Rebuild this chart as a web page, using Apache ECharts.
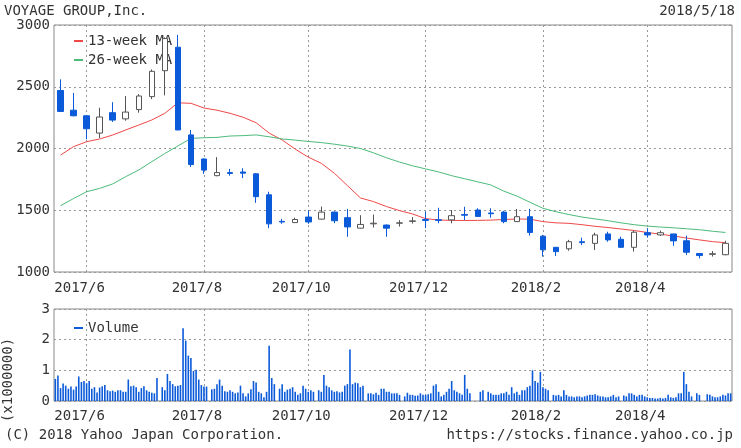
<!DOCTYPE html>
<html>
<head>
<meta charset="utf-8">
<script src="https://cdn.jsdelivr.net/npm/echarts@6/dist/echarts.min.js"></script>
<style>
html, body { margin: 0; padding: 0; background: #fff; }
#main { width: 741px; height: 448px; }
</style>
</head>
<body>
<div id="main"></div>
<script>
// 週足 (first trading day of each week)
var weeks = [
  '2017/5/22', '2017/5/29', '2017/6/5', '2017/6/12', '2017/6/19', '2017/6/26', '2017/7/3', '2017/7/10',
  '2017/7/18', '2017/7/24', '2017/7/31', '2017/8/7', '2017/8/14', '2017/8/21', '2017/8/28', '2017/9/4',
  '2017/9/11', '2017/9/19', '2017/9/25', '2017/10/2', '2017/10/10', '2017/10/16', '2017/10/23', '2017/10/30',
  '2017/11/6', '2017/11/13', '2017/11/20', '2017/11/27', '2017/12/4', '2017/12/11', '2017/12/18', '2017/12/25',
  '2018/1/4', '2018/1/9', '2018/1/15', '2018/1/22', '2018/1/29', '2018/2/5', '2018/2/13', '2018/2/19',
  '2018/2/26', '2018/3/5', '2018/3/12', '2018/3/19', '2018/3/26', '2018/4/2', '2018/4/9', '2018/4/16',
  '2018/4/23', '2018/5/1', '2018/5/7', '2018/5/14'
]
var opens = [2470, 2310, 2265, 2125, 2290, 2240, 2315, 2420, 2630, 2820, 2110, 1915, 1780, 1805, 1810, 1795, 1625, 1410, 1400, 1445,
  1428, 1485, 1440, 1355, 1390, 1380, 1395, 1410, 1425, 1423, 1422, 1465, 1502, 1478, 1485, 1408, 1448, 1290, 1200, 1188,
  1245, 1232, 1308, 1265, 1200, 1318, 1300, 1308, 1253, 1150, 1143, 1140]
var closes = [2300, 2265, 2160, 2255, 2230, 2295, 2425, 2625, 2890, 2150, 1870, 1825, 1805, 1798, 1800, 1610, 1390, 1405, 1425, 1405,
  1485, 1415, 1365, 1385, 1395, 1355, 1398, 1414, 1418, 1418, 1456, 1460, 1450, 1472, 1408, 1448, 1320, 1180, 1165, 1245,
  1238, 1300, 1260, 1200, 1322, 1300, 1318, 1252, 1160, 1133, 1148, 1232]
var lows = [2300, 2260, 2075, 2085, 2215, 2225, 2290, 2400, 2430, 2150, 1850, 1795, 1775, 1780, 1760, 1560, 1355, 1390, 1398, 1390,
  1425, 1395, 1285, 1352, 1360, 1285, 1368, 1392, 1355, 1395, 1394, 1420, 1448, 1440, 1395, 1405, 1295, 1125, 1130, 1172,
  1218, 1178, 1245, 1198, 1165, 1278, 1292, 1212, 1138, 1110, 1125, 1135]
var highs = [2560, 2450, 2270, 2330, 2375, 2425, 2440, 2640, 2900, 2920, 2150, 1920, 1930, 1835, 1840, 1800, 1650, 1430, 1440, 1500,
  1530, 1490, 1510, 1460, 1465, 1385, 1420, 1444, 1490, 1520, 1502, 1528, 1516, 1516, 1495, 1510, 1510, 1300, 1200, 1260,
  1278, 1318, 1326, 1286, 1335, 1355, 1335, 1310, 1294, 1152, 1170, 1253]

// 移動平均線
var ma13 = [1947, 2015, 2055, 2077, 2109, 2150, 2190, 2231, 2285, 2370, 2366, 2328, 2310, 2285, 2253, 2209, 2125, 2069, 1995, 1930,
  1880, 1800, 1700, 1600, 1570, 1530, 1497, 1470, 1432, 1421, 1418, 1417, 1418, 1420, 1425, 1429, 1428, 1408, 1398, 1394,
  1383, 1370, 1360, 1348, 1336, 1320, 1306, 1292, 1275, 1260, 1246, 1237]
var ma26 = [1537, 1595, 1650, 1677, 1713, 1772, 1826, 1893, 1960, 2020, 2082, 2087, 2090, 2101, 2104, 2110, 2095, 2077, 2068, 2057,
  2048, 2035, 2020, 2000, 1965, 1925, 1890, 1860, 1835, 1810, 1780, 1755, 1730, 1705, 1655, 1615, 1565, 1516, 1488, 1465,
  1445, 1430, 1415, 1398, 1383, 1372, 1364, 1358, 1350, 1342, 1330, 1320]

// 出来高 (x1000000), one array per weekday, null = holiday
var volMon = [0.72, 0.40, 0.62, 0.45, 0.35, 0.35, 0.50, 0.35, null, 0.55, 1.97, 0.70, 0.38, 0.32, 0.28, 0.38, 0.12, null, 0.40, 0.50,
  null, 0.45, 0.30, 0.60, 0.25, 0.40, 0.25, 0.27, 0.25, 0.50, 0.30, 0.25, null, null, 0.20, 0.45, 0.35, 0.60, null, 0.35,
  0.15, 0.20, 0.15, 0.12, 0.25, 0.20, 0.08, 0.20, 0.25, null, 0.22, 0.15]
var volTue = [0.83, 0.47, 0.65, 0.28, 0.32, 0.30, 0.45, 0.30, 0.45, 0.48, 1.48, 0.52, 0.40, 0.30, 0.50, 0.65, 0.30, 0.40, 0.45, 0.40,
  0.35, 0.35, 0.50, 0.58, 0.25, 0.40, 0.25, 0.20, 0.20, 0.55, 0.40, 0.20, null, 0.30, 0.25, 0.25, 0.45, 0.95, 0.20, 0.20,
  0.15, 0.20, 0.12, 0.15, 0.25, 0.15, 0.08, 0.12, 0.95, 0.25, 0.20, 0.20]
var volWed = [0.42, 0.37, 0.58, 0.44, 0.34, 0.30, 0.30, 0.27, 0.35, 0.50, 1.40, 0.47, 0.55, 0.35, 0.25, 0.60, 1.80, 0.55, 0.30, 0.30,
  0.30, 0.30, 0.55, 0.45, 0.22, 0.30, 0.20, 0.20, 0.20, 0.30, 0.65, 0.85, null, 0.25, 0.25, 0.30, 0.50, 0.45, 0.18, 0.15,
  0.12, 0.22, 0.12, null, 0.20, 0.12, 0.10, 0.10, 0.55, 0.20, 0.15, 0.18]
var volThu = [0.57, 0.47, 0.65, 0.48, 0.30, 0.70, 0.42, 0.25, 0.88, 0.52, 0.98, 0.47, 0.70, 0.30, 0.15, 0.30, 0.75, 0.30, 0.20, 0.35,
  0.85, 0.32, 1.68, 0.50, 0.27, 0.30, null, 0.17, 0.22, 0.15, 0.35, 0.40, 0.30, 0.20, 0.30, 0.20, 1.00, 0.40, 0.20, 0.15,
  0.15, 0.18, 0.15, 0.18, 0.15, 0.10, 0.08, 0.12, 0.30, null, 0.12, 0.25]
var volFri = [0.50, 0.80, 0.40, 0.52, 0.35, 0.48, 0.48, 0.75, 0.65, 2.37, 1.02, null, 0.50, 0.25, 0.25, 0.25, 0.55, 0.37, 0.25, 0.30,
  0.50, 0.28, 0.55, null, 0.20, 0.25, 0.15, 0.18, 0.25, 0.20, 0.30, 0.25, 0.35, 0.20, 0.20, 0.35, 0.65, 0.35, 0.15, 0.12,
  0.18, 0.15, 0.20, 0.15, 0.20, 0.10, 0.10, 0.25, 0.15, null, 0.12, 0.25]

var FONT = 'DejaVu Sans Mono'
var TEXT = '#333'
var BLUE = '#0b5ad9'

function monthOf (s) { return +s.split('/')[1] }
// tick at the first week of every month, label only even months
function isMonthStart (i) { return i > 0 && monthOf(weeks[i]) !== monthOf(weeks[i - 1]) }
function isLabelled (i) { return isMonthStart(i) && monthOf(weeks[i]) % 2 === 0 }
function monthLabel (s) { var p = s.split('/'); return p[0] + '/' + p[1] }
function plain (v) { return String(v) }

var candles = weeks.map(function (w, i) { return [opens[i], closes[i], lows[i], highs[i]] })

var labelStyle = { fontFamily: FONT, fontSize: 14, color: TEXT }
var gridLine = { color: '#999', type: [2, 3], width: 1 }

function volSeries (data) {
  return {
    name: 'Volume', type: 'bar', xAxisIndex: 1, yAxisIndex: 1,
    data: data, barWidth: 1.6, barGap: '62%',
    itemStyle: { color: BLUE }, z: 2
  }
}

var myChart = echarts.init(document.getElementById('main'))
myChart.setOption({
  animation: false,
  backgroundColor: '#fff',
  grid: [
    { left: 54, right: 9, top: 25, height: 247, show: true, borderColor: '#888', borderWidth: 1 },
    { left: 54, right: 9, top: 309, height: 92, show: true, borderColor: '#888', borderWidth: 1 }
  ],
  legend: [
    {
      data: ['13-week MA', '26-week MA'], orient: 'vertical', left: 69, top: 29, z: 1,
      icon: 'rect', itemWidth: 9, itemHeight: 2, itemGap: 5, selectedMode: false,
      textStyle: labelStyle
    },
    {
      data: ['Volume'], left: 69, top: 316, z: 1,
      icon: 'rect', itemWidth: 9, itemHeight: 2, selectedMode: false,
      textStyle: labelStyle
    }
  ],
  xAxis: [
    {
      type: 'category', data: weeks, gridIndex: 0,
      axisLine: { show: false },
      axisTick: { inside: true, length: 4, alignWithLabel: true, interval: isMonthStart, lineStyle: { color: '#666' } },
      axisLabel: Object.assign({ interval: isLabelled, formatter: monthLabel, margin: 9, padding: [0, 14, 0, 0] }, labelStyle),
      splitLine: { show: true, alignWithLabel: true, interval: isLabelled, lineStyle: gridLine }
    },
    {
      type: 'category', data: weeks, gridIndex: 1,
      axisLine: { show: false },
      axisTick: { show: false },
      axisLabel: Object.assign({ interval: isLabelled, formatter: monthLabel, margin: 8, padding: [0, 14, 0, 0] }, labelStyle),
      splitLine: { show: true, alignWithLabel: true, interval: isLabelled, lineStyle: gridLine }
    },
    {
      type: 'category', data: weeks, gridIndex: 1, position: 'top',
      axisLine: { show: false },
      axisTick: { inside: true, length: 4, alignWithLabel: true, interval: isMonthStart, lineStyle: { color: '#666' } },
      axisLabel: { show: false },
      splitLine: { show: false }
    }
  ],
  yAxis: [
    {
      type: 'value', gridIndex: 0, min: 1000, max: 3000, interval: 500,
      axisLine: { show: false }, axisTick: { show: false },
      axisLabel: Object.assign({ margin: 4, formatter: plain }, labelStyle),
      splitLine: { show: true, lineStyle: gridLine }
    },
    {
      type: 'value', gridIndex: 1, min: 0, max: 3, interval: 1,
      axisLine: { show: false }, axisTick: { show: false },
      axisLabel: Object.assign({ margin: 4, formatter: plain }, labelStyle),
      splitLine: { show: true, lineStyle: gridLine }
    }
  ],
  series: [
    {
      name: 'price', type: 'candlestick', xAxisIndex: 0, yAxisIndex: 0,
      data: candles, barWidth: 6, z: 3,
      itemStyle: { color: '#fff', color0: BLUE, borderColor: '#555', borderColor0: BLUE, borderWidth: 1 }
    },
    {
      name: '13-week MA', type: 'line', xAxisIndex: 0, yAxisIndex: 0, data: ma13,
      symbol: 'none', color: '#f04848', lineStyle: { width: 1 }, z: 2
    },
    {
      name: '26-week MA', type: 'line', xAxisIndex: 0, yAxisIndex: 0, data: ma26,
      symbol: 'none', color: '#4cbb7a', lineStyle: { width: 1 }, z: 2
    },
    volSeries(volMon),
    volSeries(volTue),
    volSeries(volWed),
    volSeries(volThu),
    volSeries(volFri)
  ],
  graphic: [
    { type: 'text', left: 4, top: 4, style: { text: 'VOYAGE GROUP,Inc.', font: '14px "DejaVu Sans Mono"', fill: TEXT } },
    { type: 'text', right: 6, top: 4, style: { text: '2018/5/18', font: '14px "DejaVu Sans Mono"', fill: TEXT } },
    { type: 'text', left: 5, top: 428, style: { text: '(C) 2018 Yahoo Japan Corporation.', font: '14px "DejaVu Sans Mono"', fill: TEXT } },
    { type: 'text', right: 8, top: 428, style: { text: 'https://stocks.finance.yahoo.co.jp', font: '14px "DejaVu Sans Mono"', fill: TEXT } },
    {
      type: 'text', x: 8, y: 380, rotation: Math.PI / 2,
      style: { text: '(x1000000)', font: '14px "DejaVu Sans Mono"', fill: TEXT, align: 'center', verticalAlign: 'middle' }
    }
  ]
})
</script>
</body>
</html>
